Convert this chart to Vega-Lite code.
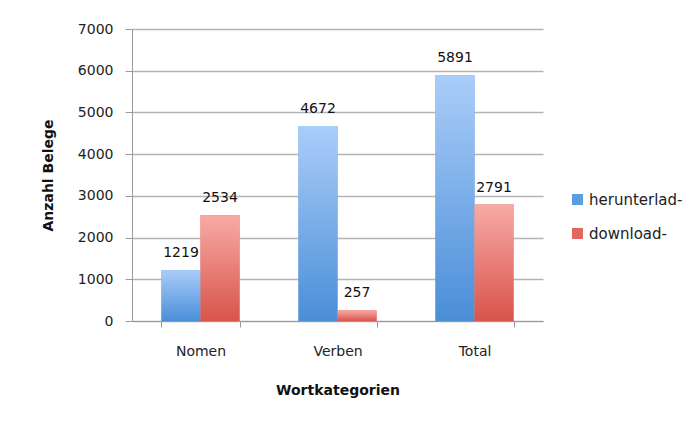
{
  "$schema": "https://vega.github.io/schema/vega-lite/v6.json",
  "width": 411,
  "height": 292,
  "autosize": "none",
  "padding": {"left": 132, "top": 29, "right": 153, "bottom": 102},
  "background": "white",
  "data": {"values": [
    {"kategorie": "Nomen", "serie": "herunterlad-", "wert": 1219},
    {"kategorie": "Nomen", "serie": "download-", "wert": 2534},
    {"kategorie": "Verben", "serie": "herunterlad-", "wert": 4672},
    {"kategorie": "Verben", "serie": "download-", "wert": 257},
    {"kategorie": "Total", "serie": "herunterlad-", "wert": 5891},
    {"kategorie": "Total", "serie": "download-", "wert": 2791}
  ]},
  "encoding": {
    "x": {"field": "kategorie", "type": "nominal", "sort": ["Nomen", "Verben", "Total"],
      "scale": {"paddingInner": 0.43, "paddingOuter": 0.215},
      "axis": {"title": "Wortkategorien", "labelAngle": 0, "tickBand": "extent", "tickSize": 6,
        "labelPadding": 17, "titlePadding": 25, "domainColor": "#999", "tickColor": "#999", "grid": false}},
    "xOffset": {"field": "serie", "type": "nominal", "sort": ["herunterlad-", "download-"], "scale": {"domain": ["herunterlad-", "download-"]}},
    "y": {"field": "wert", "type": "quantitative", "scale": {"domain": [0, 7000]},
      "axis": {"title": "Anzahl Belege", "values": [0,1000,2000,3000,4000,5000,6000,7000], "format": "d", "tickSize": 7,
        "labelPadding": 12, "titlePadding": 22, "domainColor": "#999", "tickColor": "#999",
        "gridColor": "#b4b4b4", "gridWidth": 1.5}}
  },
  "layer": [
    {
      "mark": {"type": "bar"},
      "encoding": {
        "color": {"field": "serie", "type": "nominal", "sort": ["herunterlad-", "download-"],
          "scale": {"domain": ["herunterlad-", "download-"], "range": ["#5e9ce0", "#e0665e"]},
          "legend": {"title": null, "orient": "none", "legendX": 438, "legendY": 163, "symbolType": "square", "symbolSize": 121, "rowPadding": 18, "labelFontSize": 15, "labelColor": "#222", "symbolStrokeWidth": 0, "symbolOpacity": 1}}
      }
    },
    {
      "transform": [{"filter": "datum.serie === 'herunterlad-'"}],
      "mark": {"type": "bar", "fill": {"gradient": "linear", "x1": 0, "y1": 0, "x2": 0, "y2": 1, "stops": [{"offset": 0, "color": "#aacdf9"}, {"offset": 1, "color": "#4a8ed8"}]}}
    },
    {
      "transform": [{"filter": "datum.serie === 'download-'"}],
      "mark": {"type": "bar", "fill": {"gradient": "linear", "x1": 0, "y1": 0, "x2": 0, "y2": 1, "stops": [{"offset": 0, "color": "#f8aaa5"}, {"offset": 1, "color": "#d8544b"}]}}
    },
    {
      "mark": {"type": "text", "dy": -13, "baseline": "alphabetic", "fontSize": 14, "color": "#111"},
      "encoding": {"text": {"field": "wert", "type": "quantitative", "format": "d"}}
    }
  ],
  "config": {
    "font": "DejaVu Sans",
    "view": {"stroke": null},
    "axis": {"labelFontSize": 14, "labelColor": "#222", "titleFontSize": 14, "titleFontWeight": "bold", "titleColor": "#111"}
  }
}
